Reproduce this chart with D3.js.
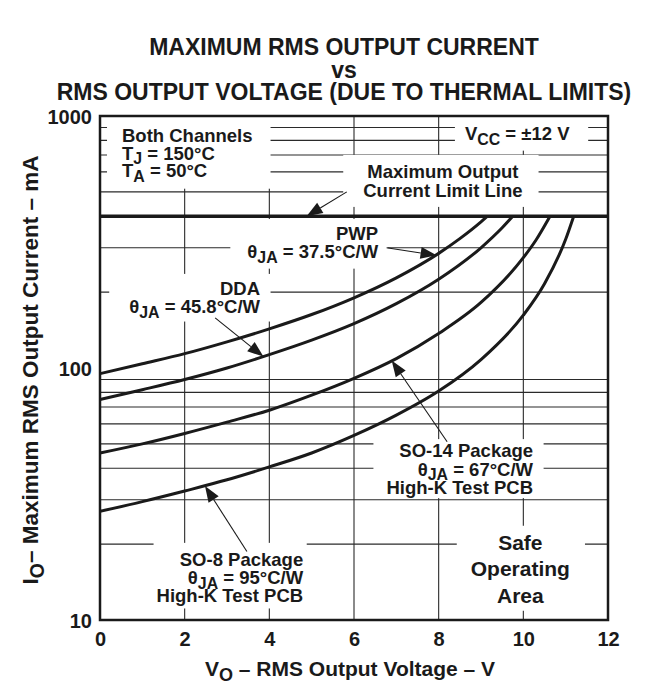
<!DOCTYPE html>
<html>
<head>
<meta charset="utf-8">
<script src="https://cdn.jsdelivr.net/npm/d3@7/dist/d3.min.js"></script>
<style>
  body { margin: 0; background: #fff; }
  text { font-family: "Liberation Sans", Arial, Helvetica, sans-serif; font-weight: bold; fill: #1a1a1a; }
</style>
</head>
<body>
<svg id="chart" width="654" height="686"></svg>
<script>
// Axis ticks and grid
const voltageTicks = [0, 2, 4, 6, 8, 10, 12];
const voltageGrid = [2, 4, 6, 8, 10];
const currentTicks = [10, 100, 1000];
const currentGrid = [20, 30, 40, 50, 60, 70, 80, 90, 200, 300, 500, 600, 700, 800, 900];
const currentLimit = 400; // mA, maximum output current limit line

// Maximum RMS output current (mA) vs RMS output voltage (V), per package
const pwpVolts  = [0, 1, 2, 3, 4, 5, 6, 7, 8, 8.5, 9, 9.15];
const pwpAmps   = [95, 104, 114, 127, 143, 163, 190, 228, 285, 326, 380, 400];
const ddaVolts  = [0, 1, 2, 3, 4, 5, 6, 7, 8, 9, 9.5, 9.75];
const ddaAmps   = [75, 82, 90, 100, 113, 129, 150, 180, 225, 300, 360, 400];
const so14Volts = [0, 1, 2, 3, 4, 5, 6, 7, 8, 9, 10, 10.3, 10.63];
const so14Amps  = [46, 50, 55, 61, 68, 78, 91, 109, 137, 182, 274, 322, 400];
const so8Volts  = [0, 1, 2, 3, 4, 5, 6, 7, 8, 9, 10, 10.5, 11, 11.19];
const so8Amps   = [27, 29.5, 32.5, 36, 40.5, 46, 54, 65, 81, 108, 162, 216, 324, 400];

const svg = d3.select("#chart");
const x = d3.scaleLinear().domain([0, 12]).range([100, 608]);
const y = d3.scaleLog().domain([10, 1000]).range([620, 116]);

const gGrid = svg.append("g");
const gBoxes = svg.append("g");
const gCurves = svg.append("g");
const gText = svg.append("g");

// Grid
gGrid.selectAll("line.v").data(voltageGrid).join("line")
  .attr("x1", d => x(d)).attr("x2", d => x(d))
  .attr("y1", y(1000)).attr("y2", y(10))
  .attr("stroke", "#2a2a2a").attr("stroke-width", 1.1);
gGrid.selectAll("line.h").data(currentGrid).join("line")
  .attr("x1", x(0)).attr("x2", x(12))
  .attr("y1", d => y(d)).attr("y2", d => y(d))
  .attr("stroke", "#2a2a2a").attr("stroke-width", 1.1);

// Title
const title = ["MAXIMUM RMS OUTPUT CURRENT", "vs", "RMS OUTPUT VOLTAGE (DUE TO THERMAL LIMITS)"];
const titleBase = [55, 78, 100];
svg.selectAll("text.title").data(title).join("text")
  .attr("class", "title")
  .attr("x", 344).attr("y", (d, i) => titleBase[i])
  .attr("text-anchor", "middle").style("font-size", "23px")
  .text(d => d);

// Axes
const xAxis = svg.append("g").attr("transform", `translate(0,${y(10)})`)
  .call(d3.axisBottom(x).tickValues(voltageTicks).tickSize(0).tickFormat(d3.format("d")));
xAxis.select(".domain").remove();
xAxis.selectAll("text").attr("y", 26).attr("dy", null)
  .style("font-size", "20px").style("font-family", null).attr("fill", null);

const yAxis = svg.append("g").attr("transform", `translate(${x(0)},0)`)
  .call(d3.axisLeft(y).tickValues(currentTicks).tickSize(0).tickFormat(d3.format("d")));
yAxis.select(".domain").remove();
yAxis.selectAll("text").attr("x", -8).attr("dy", "0.36em")
  .style("font-size", "20px").style("font-family", null).attr("fill", null);

// Text with subscripts: parts are strings or {sub: "..."}
function richLine(sel, parts, size) {
  let shifted = false;
  const shift = size * 0.25;
  parts.forEach(p => {
    const t = sel.append("tspan");
    if (typeof p === "string") {
      if (shifted) t.attr("dy", -shift);
      shifted = false;
      t.text(p);
    } else {
      t.attr("dy", shift).style("font-size", (size * 0.86) + "px").text(p.sub);
      shifted = true;
    }
  });
}

// Axis titles
const xt = svg.append("text").attr("x", 350).attr("y", 676)
  .attr("text-anchor", "middle").style("font-size", "21px");
richLine(xt, ["V", {sub: "O"}, " \u2013 RMS Output Voltage \u2013 V"], 21);

const yt = svg.append("text").attr("transform", "translate(38,370) rotate(-90)")
  .attr("text-anchor", "middle").style("font-size", "22.5px");
richLine(yt, ["I", {sub: "O"}, "\u2013 Maximum RMS Output Current \u2013 mA"], 22.5);

// Annotations: anchor given in data units (volts, mA) for the first baseline
const notes = [
  { at: [0.52, 788], anchor: "start", size: 18.5, lh: 17.5, pad: [15, 14, 18, 4],
    lines: [["Both Channels"], ["T", {sub: "J"}, " = 150\u00B0C"], ["T", {sub: "A"}, " = 50\u00B0C"]] },
  { at: [8.62, 803], anchor: "start", size: 18.5, lh: 18, pad: [10, 10, 18, 3],
    lines: [["V", {sub: "CC"}, " = \u00B112 V"]] },
  { at: [8.10, 568], anchor: "middle", size: 18.5, lh: 19, pad: [20, 6, 16, 6],
    lines: [["Maximum Output"], ["Current Limit Line"]] },
  { at: [6.57, 322], anchor: "end", size: 18.5, lh: 18, pad: [17, 4, 9, 3],
    lines: [["PWP"], ["\u03B8", {sub: "JA"}, " = 37.5\u00B0C/W"]] },
  { at: [3.78, 195], anchor: "end", size: 18.5, lh: 18, pad: [20, 4, 10, 1],
    lines: [["DDA"], ["\u03B8", {sub: "JA"}, " = 45.8\u00B0C/W"]] },
  { at: [10.23, 44.3], anchor: "end", size: 18.5, lh: 18.5, pad: [13, 1, 10, 0],
    lines: [["SO-14 Package"], ["\u03B8", {sub: "JA"}, " = 67\u00B0C/W"], ["High-K Test PCB"]] },
  { at: [4.80, 16.4], anchor: "end", size: 18.5, lh: 18.3, pad: [3, 6, 3, 2],
    lines: [["SO-8 Package"], ["\u03B8", {sub: "JA"}, " = 95\u00B0C/W"], ["High-K Test PCB"]] },
  { at: [9.93, 19.0], anchor: "middle", size: 21, lh: 26.5, pad: [14, 5, 15, 4],
    lines: [["Safe"], ["Operating"], ["Area"]] }
];

notes.forEach(n => {
  const g = gText.append("g");
  n.lines.forEach((ln, i) => {
    const t = g.append("text")
      .attr("x", x(n.at[0])).attr("y", y(n.at[1]) + i * n.lh)
      .attr("text-anchor", n.anchor).style("font-size", n.size + "px");
    richLine(t, ln, n.size);
  });
  const b = g.node().getBBox();
  gBoxes.append("rect")
    .attr("x", b.x - n.pad[0]).attr("y", b.y - n.pad[1])
    .attr("width", b.width + n.pad[0] + n.pad[2])
    .attr("height", b.height + n.pad[1] + n.pad[3])
    .attr("fill", "#fff");
});

// Curves
const line = d3.line().x(d => x(d[0])).y(d => y(d[1])).curve(d3.curveMonotoneX);
const series = [
  [pwpVolts, pwpAmps], [ddaVolts, ddaAmps], [so14Volts, so14Amps], [so8Volts, so8Amps]
];
gCurves.selectAll("path.curve").data(series).join("path")
  .attr("class", "curve")
  .attr("d", s => line(s[0].map((v, i) => [v, s[1][i]])))
  .attr("fill", "none").attr("stroke", "#1a1a1a").attr("stroke-width", 3);

// Current limit line
gCurves.append("line")
  .attr("x1", x(0)).attr("x2", x(12))
  .attr("y1", y(currentLimit)).attr("y2", y(currentLimit))
  .attr("stroke", "#1a1a1a").attr("stroke-width", 3.5);

// Leader arrows: [from volts, from mA, tip volts, tip mA]
const arrows = [
  [5.83, 500, 4.88, 400],
  [6.77, 300, 7.95, 280],
  [2.72, 158, 3.86, 111],
  [8.2, 51, 6.89, 107],
  [3.47, 18.7, 2.48, 34]
];
arrows.forEach(a => {
  const x1 = x(a[0]), y1 = y(a[1]), x2 = x(a[2]), y2 = y(a[3]);
  const ang = Math.atan2(y2 - y1, x2 - x1);
  const L = 16, W = 6;
  const bx = x2 - L * Math.cos(ang), by = y2 - L * Math.sin(ang);
  gCurves.append("line").attr("x1", x1).attr("y1", y1).attr("x2", bx).attr("y2", by)
    .attr("stroke", "#1a1a1a").attr("stroke-width", 1.1);
  const px = -Math.sin(ang) * W, py = Math.cos(ang) * W;
  gCurves.append("polygon")
    .attr("points", [[x2, y2], [bx + px, by + py], [bx - px, by - py]].map(p => p.join(",")).join(" "))
    .attr("fill", "#1a1a1a");
});

// Frame
gCurves.append("rect")
  .attr("x", x(0)).attr("y", y(1000))
  .attr("width", x(12) - x(0)).attr("height", y(10) - y(1000))
  .attr("fill", "none").attr("stroke", "#1a1a1a").attr("stroke-width", 2.5);
</script>
</body>
</html>
